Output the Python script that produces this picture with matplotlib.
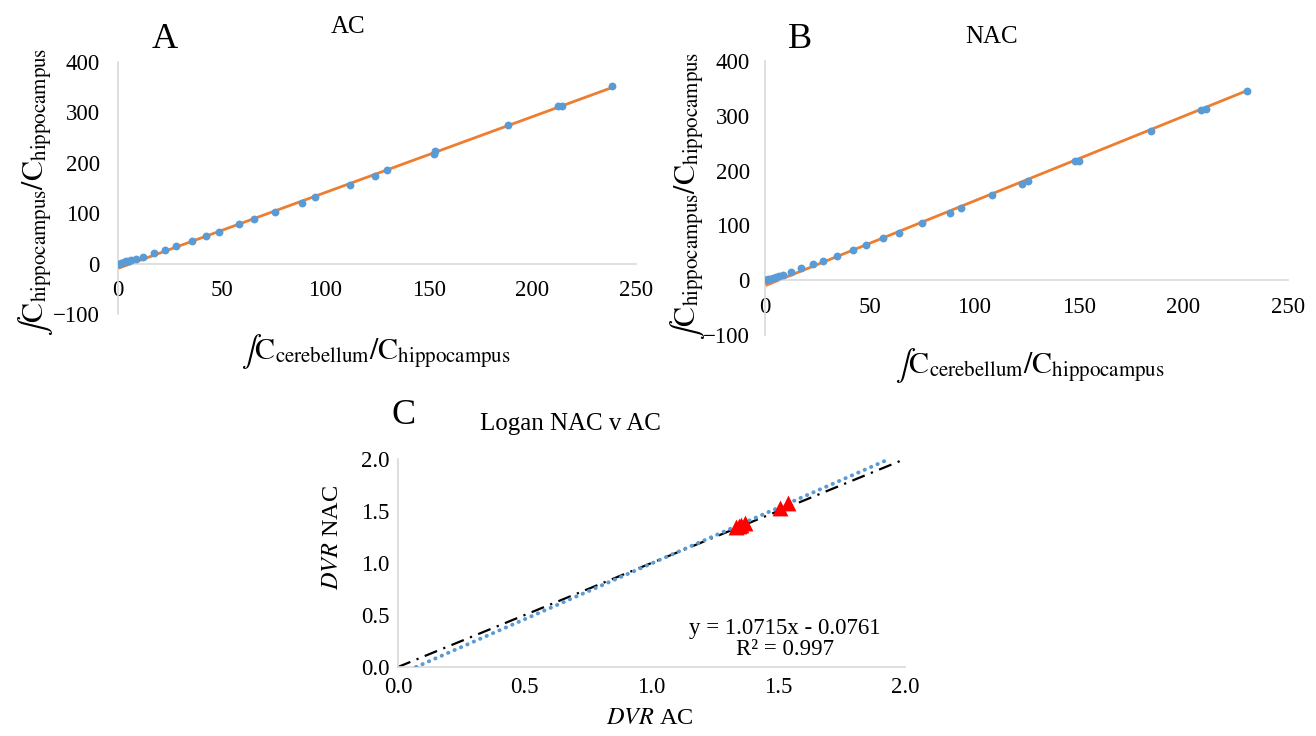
import numpy as np
import matplotlib
matplotlib.use('Agg')
import matplotlib.pyplot as plt

plt.rcParams['font.family'] = ['Liberation Serif', 'DejaVu Serif']
plt.rcParams['mathtext.fontset'] = 'stix'

# Panel A: Logan plot with attenuation correction
ac_x = [0.0, 1.4, 2.8, 4.0, 5.2, 6.2, 8.6, 12.3, 17.3, 22.8, 27.8, 35.6, 42.5, 48.9,
        58.5, 65.6, 75.6, 88.9, 95.3, 111.9, 124.0, 130.0, 152.3, 153.0, 188.4,
        212.5, 214.3, 238.4]
ac_y = [0.0, 2.0, 3.3, 4.6, 6.0, 6.6, 8.6, 13.2, 21.9, 27.8, 34.4, 45.0, 55.0, 63.6,
        78.2, 88.1, 102.7, 121.2, 131.8, 155.0, 174.2, 184.8, 217.9, 222.5, 274.2,
        313.3, 313.3, 353.0]
ac_slope, ac_icpt = 1.505, -9.5

# Panel B: Logan plot without attenuation correction
nac_x = [0.0, 1.4, 2.6, 3.8, 5.2, 6.5, 8.4, 12.5, 17.0, 22.8, 27.7, 34.5, 42.1, 48.1,
         56.5, 64.1, 75.1, 88.5, 93.8, 108.6, 122.7, 125.9, 148.1, 150.3, 184.7,
         208.2, 211.0, 230.2]
nac_y = [0.5, 1.8, 3.0, 4.2, 5.4, 7.3, 10.3, 14.5, 21.8, 29.0, 35.1, 44.2, 55.7, 63.5,
         76.2, 85.9, 103.5, 122.2, 131.9, 154.9, 175.5, 181.5, 217.8, 217.8, 272.9,
         311.0, 312.8, 345.5]
nac_slope, nac_icpt = 1.545, -10.0

# Panel C: DVR NAC vs DVR AC
dvr_ac = [1.335, 1.345, 1.355, 1.370, 1.505, 1.540]
dvr_nac = [1.345, 1.358, 1.368, 1.383, 1.525, 1.574]
c_slope, c_icpt = 1.0715, -0.0761

W, H = 1316, 736
fig = plt.figure(figsize=(W / 100, H / 100), dpi=100)

def box(l, t, r, b):
    return [l / W, 1 - b / H, (r - l) / W, (b - t) / H]

def ftxt(x, y, s, **kw):
    fig.text(x / W, 1 - y / H, s, ha='center', va='center', **kw)

grey = '#d9d9d9'
blue = '#5b9bd5'
orange = '#ed7d31'

def excel_axes(ax, xpad, ypad, fs):
    for sp in ['top', 'right']:
        ax.spines[sp].set_visible(False)
    for sp in ['left', 'bottom']:
        ax.spines[sp].set_color(grey)
        ax.spines[sp].set_linewidth(1.2)
    ax.tick_params(length=0, labelsize=fs, colors='#000000')
    ax.tick_params(axis='x', pad=xpad)
    ax.tick_params(axis='y', pad=ypad)

lab_ylogan = r'$\int\mathrm{C}_{\mathrm{hippocampus}}/\mathrm{C}_{\mathrm{hippocampus}}$'
lab_xlogan = r'$\int\mathrm{C}_{\mathrm{cerebellum}}/\mathrm{C}_{\mathrm{hippocampus}}$'

# ---- A ----
axA = fig.add_axes(box(118, 62, 636, 314))
xs = np.array([0, max(ac_x)])
axA.plot(xs, ac_slope * xs + ac_icpt, color=orange, lw=2, zorder=2)
axA.scatter(ac_x, ac_y, s=32, color=blue, zorder=3, linewidths=0)
axA.set_xlim(0, 250)
axA.set_ylim(-100, 400)
axA.set_xticks(range(0, 251, 50))
axA.set_yticks(range(-100, 401, 100))
axA.spines['bottom'].set_position(('data', 0))
excel_axes(axA, 12, 13, 16.5)

# ---- B ----
axB = fig.add_axes(box(765, 61, 1288, 335))
xs = np.array([0, max(nac_x)])
axB.plot(xs, nac_slope * xs + nac_icpt, color=orange, lw=2, zorder=2)
axB.scatter(nac_x, nac_y, s=32, color=blue, zorder=3, linewidths=0)
axB.set_xlim(0, 250)
axB.set_ylim(-100, 400)
axB.set_xticks(range(0, 251, 50))
axB.set_yticks(range(-100, 401, 100))
axB.spines['bottom'].set_position(('data', 0))
excel_axes(axB, 12, 11, 16.5)

# ---- C ----
axC = fig.add_axes(box(398, 459, 905, 667))
axC.plot([0, 2], [0, 2], color='black', lw=1.6, ls=(0, (6, 3, 1, 3)), zorder=2)
x0 = -c_icpt / c_slope
x1 = (2.0 - c_icpt) / c_slope
xs = np.array([x0, x1])
axC.plot(xs, c_slope * xs + c_icpt, color=blue, lw=2.8, ls=(0, (0.1, 1.7)),
         dash_capstyle='round', zorder=3)
axC.scatter(dvr_ac, dvr_nac, marker='^', s=130, color='#ff0000', zorder=4,
            linewidths=0)
axC.set_xlim(0, 2)
axC.set_ylim(0, 2)
axC.set_xticks(np.arange(0, 2.01, 0.5))
axC.set_yticks(np.arange(0, 2.01, 0.5))
axC.xaxis.set_major_formatter(matplotlib.ticker.FormatStrFormatter('%.1f'))
axC.yaxis.set_major_formatter(matplotlib.ticker.FormatStrFormatter('%.1f'))
excel_axes(axC, 7, 6, 16.5)
axC.text(1.527, 0.27, 'y = 1.0715x - 0.0761\nR² = 0.997', ha='center', va='center',
         fontsize=16.5, linespacing=1.0)

# ---- titles, panel letters, axis labels ----
ftxt(165, 40, 'A', fontsize=26)
ftxt(348, 27, 'AC', fontsize=18)
ftxt(800, 40, 'B', fontsize=26)
ftxt(992, 37, 'NAC', fontsize=18)
ftxt(404, 415, 'C', fontsize=26)
ftxt(570, 424, 'Logan NAC v AC', fontsize=18)

ftxt(376, 352, lab_xlogan, fontsize=21.5)
ftxt(36, 192, lab_ylogan, fontsize=21.5, rotation=90)
ftxt(1030, 366, lab_xlogan, fontsize=21.5)
ftxt(688, 196, lab_ylogan, fontsize=21.5, rotation=90)
ftxt(650, 718, r'$\mathit{DVR}$ AC', fontsize=17.5)
ftxt(333, 537, r'$\mathit{DVR}$ NAC', fontsize=17.5, rotation=90)

fig.savefig('out.png', dpi=100, facecolor='white')
